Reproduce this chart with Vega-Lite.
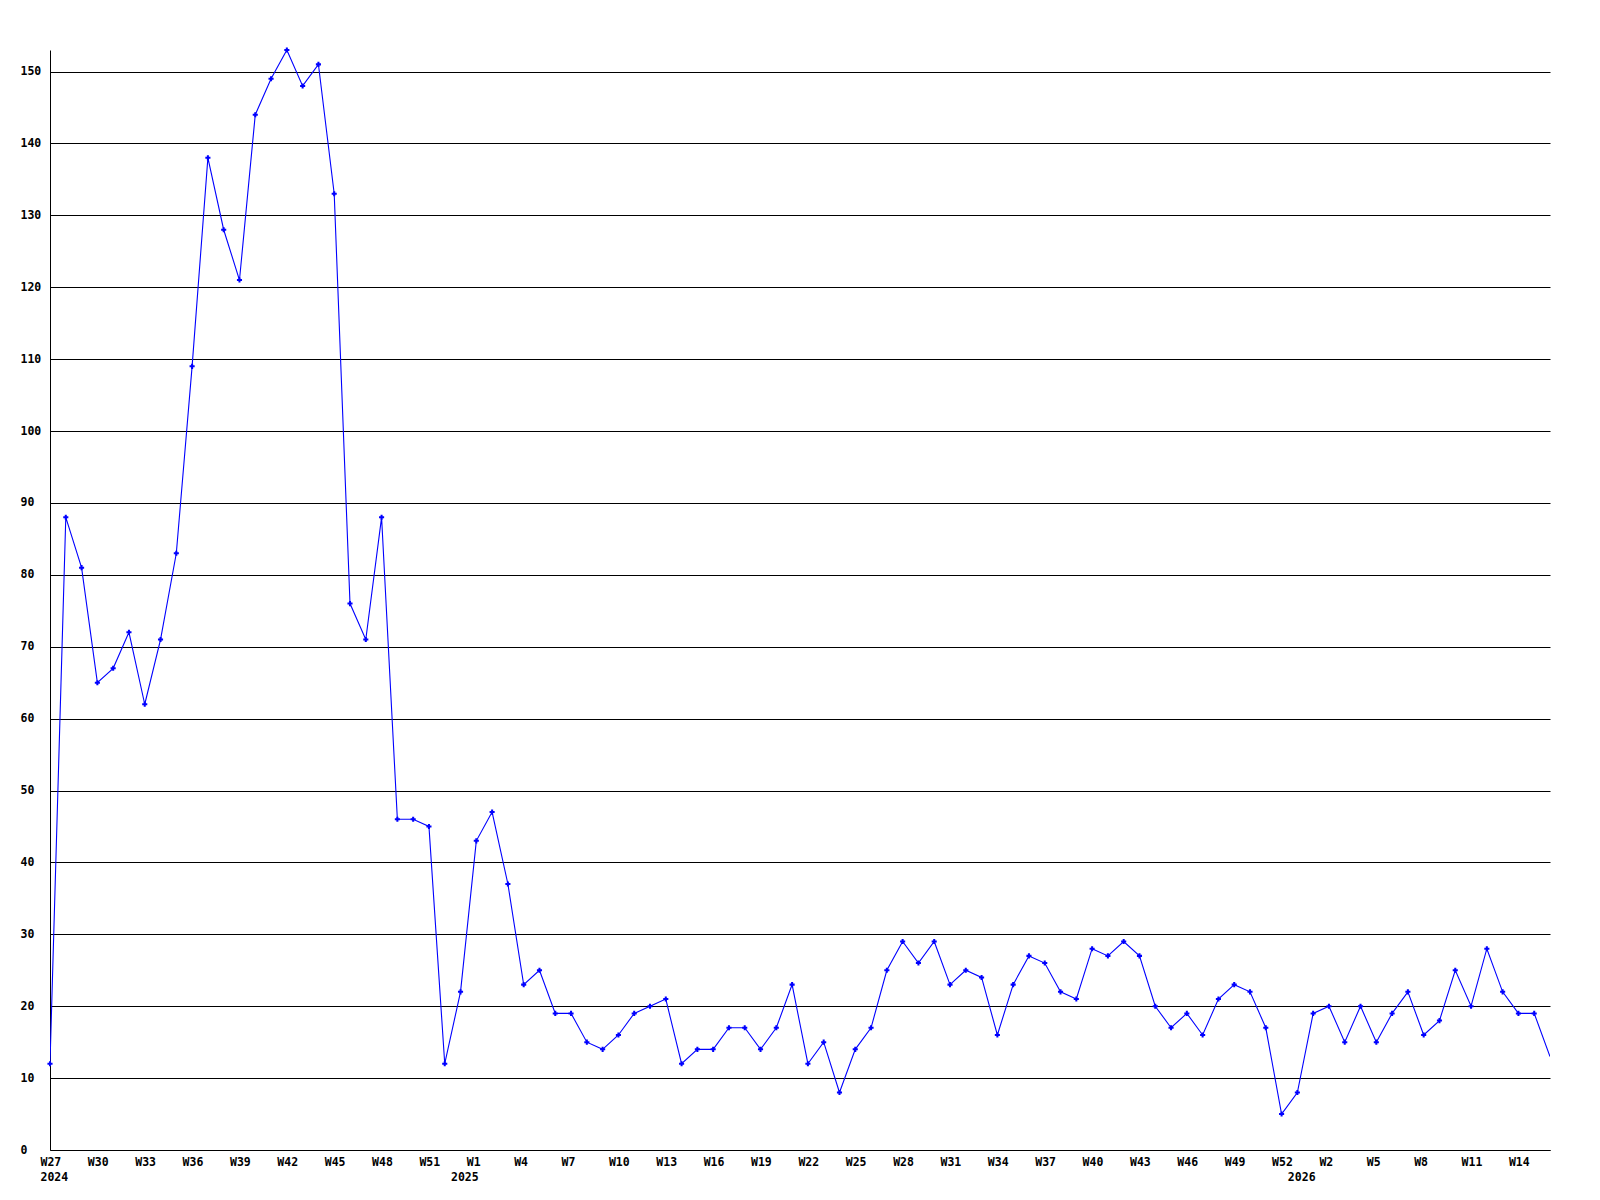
{
  "$schema": "https://vega.github.io/schema/vega-lite/v6.json",
  "width": 1500,
  "height": 1100,
  "autosize": {"type": "none"},
  "padding": {"left": 50, "top": 50, "right": 50, "bottom": 50},
  "background": "#ffffff",
  "config": {
    "view": {"stroke": null},
    "axis": {
      "labelFont": "DejaVu Sans Mono",
      "labelFontWeight": "bold",
      "labelFontSize": 11.5,
      "labelColor": "#000000",
      "domainColor": "#000000",
      "domainWidth": 1,
      "ticks": false,
      "title": null
    }
  },
  "data": {
    "values": [
      {"i": 0, "week": "2024-W27", "n": 12},
      {"i": 1, "week": "2024-W28", "n": 88},
      {"i": 2, "week": "2024-W29", "n": 81},
      {"i": 3, "week": "2024-W30", "n": 65},
      {"i": 4, "week": "2024-W31", "n": 67},
      {"i": 5, "week": "2024-W32", "n": 72},
      {"i": 6, "week": "2024-W33", "n": 62},
      {"i": 7, "week": "2024-W34", "n": 71},
      {"i": 8, "week": "2024-W35", "n": 83},
      {"i": 9, "week": "2024-W36", "n": 109},
      {"i": 10, "week": "2024-W37", "n": 138},
      {"i": 11, "week": "2024-W38", "n": 128},
      {"i": 12, "week": "2024-W39", "n": 121},
      {"i": 13, "week": "2024-W40", "n": 144},
      {"i": 14, "week": "2024-W41", "n": 149},
      {"i": 15, "week": "2024-W42", "n": 153},
      {"i": 16, "week": "2024-W43", "n": 148},
      {"i": 17, "week": "2024-W44", "n": 151},
      {"i": 18, "week": "2024-W45", "n": 133},
      {"i": 19, "week": "2024-W46", "n": 76},
      {"i": 20, "week": "2024-W47", "n": 71},
      {"i": 21, "week": "2024-W48", "n": 88},
      {"i": 22, "week": "2024-W49", "n": 46},
      {"i": 23, "week": "2024-W50", "n": 46},
      {"i": 24, "week": "2024-W51", "n": 45},
      {"i": 25, "week": "2024-W52", "n": 12},
      {"i": 26, "week": "2025-W0", "n": 22},
      {"i": 27, "week": "2025-W1", "n": 43},
      {"i": 28, "week": "2025-W2", "n": 47},
      {"i": 29, "week": "2025-W3", "n": 37},
      {"i": 30, "week": "2025-W4", "n": 23},
      {"i": 31, "week": "2025-W5", "n": 25},
      {"i": 32, "week": "2025-W6", "n": 19},
      {"i": 33, "week": "2025-W7", "n": 19},
      {"i": 34, "week": "2025-W8", "n": 15},
      {"i": 35, "week": "2025-W9", "n": 14},
      {"i": 36, "week": "2025-W10", "n": 16},
      {"i": 37, "week": "2025-W11", "n": 19},
      {"i": 38, "week": "2025-W12", "n": 20},
      {"i": 39, "week": "2025-W13", "n": 21},
      {"i": 40, "week": "2025-W14", "n": 12},
      {"i": 41, "week": "2025-W15", "n": 14},
      {"i": 42, "week": "2025-W16", "n": 14},
      {"i": 43, "week": "2025-W17", "n": 17},
      {"i": 44, "week": "2025-W18", "n": 17},
      {"i": 45, "week": "2025-W19", "n": 14},
      {"i": 46, "week": "2025-W20", "n": 17},
      {"i": 47, "week": "2025-W21", "n": 23},
      {"i": 48, "week": "2025-W22", "n": 12},
      {"i": 49, "week": "2025-W23", "n": 15},
      {"i": 50, "week": "2025-W24", "n": 8},
      {"i": 51, "week": "2025-W25", "n": 14},
      {"i": 52, "week": "2025-W26", "n": 17},
      {"i": 53, "week": "2025-W27", "n": 25},
      {"i": 54, "week": "2025-W28", "n": 29},
      {"i": 55, "week": "2025-W29", "n": 26},
      {"i": 56, "week": "2025-W30", "n": 29},
      {"i": 57, "week": "2025-W31", "n": 23},
      {"i": 58, "week": "2025-W32", "n": 25},
      {"i": 59, "week": "2025-W33", "n": 24},
      {"i": 60, "week": "2025-W34", "n": 16},
      {"i": 61, "week": "2025-W35", "n": 23},
      {"i": 62, "week": "2025-W36", "n": 27},
      {"i": 63, "week": "2025-W37", "n": 26},
      {"i": 64, "week": "2025-W38", "n": 22},
      {"i": 65, "week": "2025-W39", "n": 21},
      {"i": 66, "week": "2025-W40", "n": 28},
      {"i": 67, "week": "2025-W41", "n": 27},
      {"i": 68, "week": "2025-W42", "n": 29},
      {"i": 69, "week": "2025-W43", "n": 27},
      {"i": 70, "week": "2025-W44", "n": 20},
      {"i": 71, "week": "2025-W45", "n": 17},
      {"i": 72, "week": "2025-W46", "n": 19},
      {"i": 73, "week": "2025-W47", "n": 16},
      {"i": 74, "week": "2025-W48", "n": 21},
      {"i": 75, "week": "2025-W49", "n": 23},
      {"i": 76, "week": "2025-W50", "n": 22},
      {"i": 77, "week": "2025-W51", "n": 17},
      {"i": 78, "week": "2025-W52", "n": 5},
      {"i": 79, "week": "2026-W0", "n": 8},
      {"i": 80, "week": "2026-W1", "n": 19},
      {"i": 81, "week": "2026-W2", "n": 20},
      {"i": 82, "week": "2026-W3", "n": 15},
      {"i": 83, "week": "2026-W4", "n": 20},
      {"i": 84, "week": "2026-W5", "n": 15},
      {"i": 85, "week": "2026-W6", "n": 19},
      {"i": 86, "week": "2026-W7", "n": 22},
      {"i": 87, "week": "2026-W8", "n": 16},
      {"i": 88, "week": "2026-W9", "n": 18},
      {"i": 89, "week": "2026-W10", "n": 25},
      {"i": 90, "week": "2026-W11", "n": 20},
      {"i": 91, "week": "2026-W12", "n": 28},
      {"i": 92, "week": "2026-W13", "n": 22},
      {"i": 93, "week": "2026-W14", "n": 19},
      {"i": 94, "week": "2026-W15", "n": 19},
      {"i": 95, "week": "2026-W16", "n": 13}
    ]
  },
  "encoding": {
    "x": {
      "field": "i",
      "type": "quantitative",
      "scale": {"domain": [0, 95], "nice": false, "zero": false},
      "axis": {
        "grid": false,
        "values": [0, 3, 6, 9, 12, 15, 18, 21, 24, 26, 27, 30, 33, 36, 39, 42, 45, 48, 51, 54, 57, 60, 63, 66, 69, 72, 75, 78, 79, 81, 84, 87, 90, 93],
        "labelExpr": "datum.value == 0 ? ['W27', '2024'] : datum.value == 26 ? ['', '2025'] : datum.value == 79 ? ['', '2026'] : 'W' + (datum.value < 26 ? datum.value + 27 : datum.value < 79 ? datum.value - 26 : datum.value - 79)",
        "labelAlign": "left",
        "labelOffset": -10,
        "labelBaseline": "top",
        "labelPadding": 6,
        "labelLineHeight": 15,
        "labelOverlap": false,
        "labelFlush": false,
        "labelBound": false
      }
    },
    "y": {
      "field": "n",
      "type": "quantitative",
      "scale": {"domain": [0, 153], "nice": false},
      "axis": {
        "values": [0, 10, 20, 30, 40, 50, 60, 70, 80, 90, 100, 110, 120, 130, 140, 150],
        "grid": true,
        "gridColor": "#000000",
        "gridOpacity": 1,
        "gridWidth": 1,
        "labelAlign": "left",
        "labelBaseline": "middle",
        "labelPadding": 30
      }
    }
  },
  "layer": [
    {
      "mark": {"type": "line", "color": "#0000ff", "strokeWidth": 1.1, "clip": true}
    },
    {
      "transform": [{"filter": "datum.i < 95"}],
      "mark": {"type": "point", "shape": "cross", "size": 26, "filled": true, "color": "#0000ff", "opacity": 1}
    }
  ]
}
